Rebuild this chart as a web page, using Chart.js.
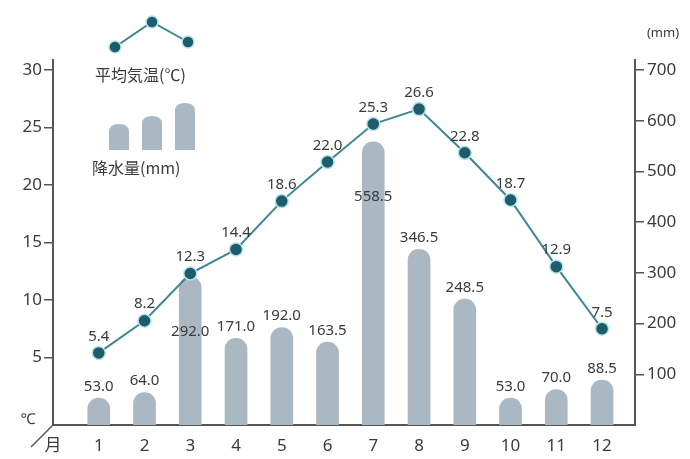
<!DOCTYPE html>
<html>
<head>
<meta charset="utf-8">
<script src="https://cdn.jsdelivr.net/npm/chart.js@4.4.1/dist/chart.umd.min.js"></script>
<style>
  html, body { margin: 0; padding: 0; background: #fff; }
  #wrap { width: 690px; height: 459px; position: relative; }
</style>
</head>
<body>
<div id="wrap"><canvas id="chart"></canvas></div>
<script>
// data
const months = [1, 2, 3, 4, 5, 6, 7, 8, 9, 10, 11, 12];
const tempC = [5.4, 8.2, 12.3, 14.4, 18.6, 22.0, 25.3, 26.6, 22.8, 18.7, 12.9, 7.5];
const rainMm = [53.0, 64.0, 292.0, 171.0, 192.0, 163.5, 558.5, 346.5, 248.5, 53.0, 70.0, 88.5];
const tempTicks = [5, 10, 15, 20, 25, 30];
const rainTicks = [100, 200, 300, 400, 500, 600, 700];

const FONT = '"Noto Sans", "Noto Sans CJK JP", sans-serif';
const TXT = '#3a3a3a';
const AXIS = '#555';
const BAR = '#a9b8c3';
const LINE = '#3b8795';
const DOT = '#1d5c6b';

// labels for both series + the little extras (corner slash, unit marks, legend)
const decor = {
  id: 'decor',
  afterDatasetsDraw(chart) {
    const ctx = chart.ctx;
    const barMeta = chart.getDatasetMeta(0);
    const lineMeta = chart.getDatasetMeta(1);
    ctx.save();
    ctx.font = '15px ' + FONT;
    ctx.fillStyle = TXT;
    ctx.textAlign = 'center';
    ctx.textBaseline = 'bottom';
    barMeta.data.forEach((bar, i) => {
      const pt = lineMeta.data[i];
      let y = bar.y - 4;
      // bar top runs into the temperature dot: tuck the label under it
      if (bar.y < pt.y + 30) y = Math.max(bar.y, pt.y) + 62;
      ctx.fillText(rainMm[i].toFixed(1), bar.x, y);
    });
    lineMeta.data.forEach((pt, i) => {
      ctx.fillText(tempC[i].toFixed(1), pt.x, pt.y - 9);
    });
    ctx.restore();
  },
  afterDraw(chart) {
    const ctx = chart.ctx;
    const a = chart.chartArea;
    ctx.save();
    // corner slash
    ctx.strokeStyle = AXIS;
    ctx.lineWidth = 1.5;
    ctx.beginPath();
    ctx.moveTo(a.left, a.bottom);
    ctx.lineTo(a.left - 22, a.bottom + 22);
    ctx.stroke();
    ctx.fillStyle = TXT;
    ctx.font = '15px ' + FONT;
    ctx.textAlign = 'center';
    ctx.textBaseline = 'middle';
    ctx.fillText('℃', a.left - 25, a.bottom - 5);
    ctx.font = '13px ' + FONT;
    ctx.fillText('(mm)', a.right + 28, a.top - 27);

    // legend: line glyph
    const lx = [a.left + 62, a.left + 99, a.left + 135];
    const ly = [a.top - 13, a.top - 38, a.top - 18];
    ctx.strokeStyle = LINE;
    ctx.lineWidth = 2;
    ctx.beginPath();
    lx.forEach((x, k) => k ? ctx.lineTo(x, ly[k]) : ctx.moveTo(x, ly[k]));
    ctx.stroke();
    lx.forEach((x, k) => {
      ctx.beginPath();
      ctx.arc(x, ly[k], 6, 0, Math.PI * 2);
      ctx.fillStyle = DOT;
      ctx.fill();
      ctx.strokeStyle = '#b6e2e8';
      ctx.lineWidth = 1.5;
      ctx.stroke();
    });
    ctx.fillStyle = TXT;
    ctx.font = '16px "Noto Sans CJK JP", sans-serif';
    ctx.textAlign = 'left';
    ctx.fillText('平均気温(℃)', a.left + 42, a.top + 15);

    // legend: bar glyph
    const bx = [a.left + 66, a.left + 99, a.left + 132];
    const bh = [26, 34, 47];
    const base = a.top + 90;
    ctx.fillStyle = BAR;
    bx.forEach((x, k) => {
      const w = 20, r = 8, t = base - bh[k];
      ctx.beginPath();
      ctx.moveTo(x - w / 2, base);
      ctx.lineTo(x - w / 2, t + r);
      ctx.quadraticCurveTo(x - w / 2, t, x, t);
      ctx.quadraticCurveTo(x + w / 2, t, x + w / 2, t + r);
      ctx.lineTo(x + w / 2, base);
      ctx.closePath();
      ctx.fill();
    });
    ctx.fillStyle = TXT;
    ctx.fillText('降水量(mm)', a.left + 39, a.top + 108);
    ctx.restore();
  }
};

const onlyTicks = list => scale => {
  scale.ticks = list.map(v => ({ value: v }));
};

new Chart(document.getElementById('chart'), {
  data: {
    datasets: [
      {
        type: 'bar',
        label: '降水量(mm)',
        data: months.map((m, i) => ({ x: m, y: rainMm[i] })),
        yAxisID: 'yR',
        backgroundColor: BAR,
        barThickness: 22,
        borderRadius: { topLeft: 11, topRight: 11, bottomLeft: 0, bottomRight: 0 },
        borderSkipped: 'bottom',
        order: 2
      },
      {
        type: 'line',
        label: '平均気温(℃)',
        data: months.map((m, i) => ({ x: m, y: tempC[i] })),
        yAxisID: 'yT',
        borderColor: LINE,
        borderWidth: 2,
        pointRadius: 6.5,
        pointBackgroundColor: DOT,
        pointBorderColor: '#b6e2e8',
        pointBorderWidth: 1.5,
        tension: 0,
        order: 1
      }
    ]
  },
  options: {
    responsive: true,
    maintainAspectRatio: false,
    animation: false,
    layout: { padding: { top: 60, left: 0, right: 0, bottom: 0 } },
    plugins: { legend: { display: false }, tooltip: { enabled: false } },
    scales: {
      x: {
        type: 'linear',
        offset: false,
        min: 0,
        max: 12.72,
        afterBuildTicks: scale => { scale.ticks = [0].concat(months).map(v => ({ value: v })); },
        afterFit: s => { s.height = 34; },
        grid: { display: false },
        border: { display: true, color: AXIS, width: 2 },
        ticks: {
          callback: v => v === 0 ? '月' : String(v),
          color: TXT,
          font: { family: FONT, size: 17 },
          padding: 3,
          maxRotation: 0
        }
      },
      yT: {
        position: 'left',
        min: -0.87,
        max: 30.87,
        afterBuildTicks: onlyTicks(tempTicks),
        afterFit: s => { s.width = 53; },
        grid: { drawOnChartArea: false, drawTicks: true, tickLength: 9, color: AXIS, lineWidth: 1.5 },
        border: { display: true, color: AXIS, width: 2 },
        ticks: { color: TXT, font: { family: FONT, size: 17 }, padding: 2 }
      },
      yR: {
        position: 'right',
        min: 0,
        max: 720,
        afterBuildTicks: onlyTicks(rainTicks),
        afterFit: s => { s.width = 55; },
        grid: { drawOnChartArea: false, drawTicks: true, tickLength: 9, color: AXIS, lineWidth: 1.5 },
        border: { display: true, color: AXIS, width: 2 },
        ticks: { color: TXT, font: { family: FONT, size: 17 }, padding: 3 }
      }
    }
  },
  plugins: [decor]
});
</script>
</body>
</html>
